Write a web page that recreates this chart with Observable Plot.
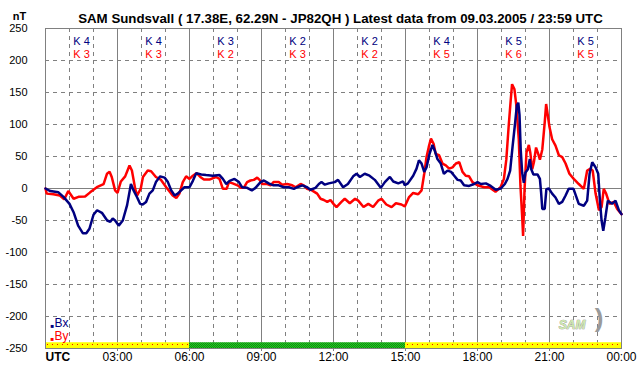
<!DOCTYPE html>
<html>
<head>
<meta charset="utf-8">
<script src="https://cdn.jsdelivr.net/npm/d3@7"></script>
<script src="https://cdn.jsdelivr.net/npm/@observablehq/plot@0.6"></script>
<style>
  html, body { margin: 0; padding: 0; background: #fff; }
  svg.chart { display: block; }
</style>
</head>
<body>
<svg width="0" height="0" style="position:absolute">
  <defs>
    <pattern id="barYellow" width="5" height="6" patternUnits="userSpaceOnUse">
      <rect width="5" height="6" fill="#ffff00"></rect>
      <rect x="2" y="2" width="1" height="1" fill="#ff0000"></rect>
    </pattern>
    <pattern id="barGreen" width="2" height="2" patternUnits="userSpaceOnUse">
      <rect width="2" height="2" fill="#22cc22"></rect>
      <rect width="1" height="1" fill="#118811"></rect>
      <rect x="1" y="1" width="1" height="1" fill="#118811"></rect>
    </pattern>
  </defs>
</svg>
<div id="chart"></div>
<script>
const titleText = "SAM Sundsvall ( 17.38E, 62.29N - JP82QH ) Latest data from 09.03.2005 / 23:59 UTC";
const unitText = "nT";

const yTicks = [250, 200, 150, 100, 50, 0, -50, -100, -150, -200, -250];
const xTickHours = [3, 6, 9, 12, 15, 18, 21, 24];
const xTickLabels = ["03:00", "06:00", "09:00", "12:00", "15:00", "18:00", "21:00", "00:00"];
const gridHoursMinor = [1, 2, 4, 5, 7, 8, 10, 11, 13, 14, 16, 17, 19, 20, 22, 23];
const gridHoursMajor = [3, 6, 9, 12, 15, 18, 21];

const kHours = [1.5, 4.5, 7.5, 10.5, 13.5, 16.5, 19.5, 22.5];
const kBx = [4, 4, 3, 2, 2, 4, 5, 5];
const kBy = [3, 3, 2, 3, 2, 5, 6, 5];

const barStart = [0, 6, 15];
const barEnd = [6, 15, 24];
const barState = ["yellow", "green", "yellow"];

const bxHours = [0,0.2,0.54,0.75,1.0,1.17,1.36,1.56,1.7,1.83,2.0,2.15,2.35,2.57,2.7,2.8,2.9,3.05,3.22,3.4,3.56,3.67,3.82,3.94,4.05,4.19,4.33,4.47,4.6,4.78,4.96,5.1,5.24,5.38,5.51,5.65,5.79,6.0,6.14,6.28,6.49,6.69,6.97,7.25,7.39,7.53,7.67,7.875,8.06,8.19,8.4,8.6,8.75,8.96,9.1,9.3,9.5,9.72,9.93,10.14,10.35,10.49,10.7,10.9,11.04,11.25,11.39,11.5,11.64,11.8,12.05,12.19,12.4,12.6,12.82,12.96,13.1,13.3,13.5,13.72,13.97,14.14,14.35,14.49,14.7,14.9,14.97,15.1,15.32,15.46,15.56,15.67,15.78,15.875,16.0,16.125,16.22,16.33,16.47,16.6,16.75,16.9,17.03,17.17,17.3,17.44,17.65,17.86,18.0,18.14,18.35,18.55,18.76,18.97,19.14,19.25,19.36,19.46,19.56,19.64,19.7,19.75,19.8,19.86,19.93,20.0,20.1,20.18,20.24,20.33,20.5,20.6,20.65,20.7,20.8,20.87,20.97,21.11,21.25,21.39,21.53,21.67,21.8,22.0,22.22,22.43,22.57,22.67,22.78,22.92,23.03,23.1,23.17,23.24,23.33,23.43,23.61,23.75,23.89,24];
const bxValues = [0,-4,-6,-13,-24,-37,-58,-70,-70,-63,-41,-34,-38,-50,-52,-47,-50,-58,-50,-26,7,-3,-14,-24,-25,-21,-8,-3,10,19,17,10,-3,-11,-8,-3,2,2,12,24,22,21,20,21,15,7,12,15,10,2,1,-3,1,10,12.5,8,5,5,2,2,-0.5,2,5,2,-2,1,7,10,6,8,10,13.5,2,7,19,23,18,23,20,13.5,1,10,18,11,8,11,5,8,20,31,44,39,26,33,54,68,59,46,39,23,28,26,20,13.5,12.5,5,4,7,10,7,8,4,-2,0,7,15,28,65,100,130,134,115,61,25,9,25,30,46,30,22,22,15,-6,-32,-32,-1,0,-8,-14,-24,-21,-11,-0.5,-0.5,-24,-27,-19,23,41,33,23,-19,-50,-66,-45,-19,-24,-19,-34,-40];

const byHours = [0,0.05,0.33,0.6,0.78,0.95,1.17,1.375,1.65,1.86,2.14,2.42,2.56,2.67,2.76,2.9,3.0,3.14,3.32,3.5,3.6,3.74,3.82,3.97,4.06,4.26,4.4,4.6,4.8,5.03,5.3,5.45,5.58,5.72,5.86,6.0,6.14,6.3,6.45,6.6,6.83,7.1,7.25,7.39,7.55,7.64,7.8,8.0,8.15,8.26,8.4,8.54,8.68,8.82,8.92,9.03,9.24,9.38,9.5,9.72,9.86,10.07,10.28,10.42,10.63,10.76,10.9,11.1,11.32,11.46,11.6,11.74,11.875,12.0,12.125,12.33,12.47,12.68,12.9,13.03,13.25,13.45,13.65,13.86,14.0,14.2,14.42,14.6,14.83,14.97,15.14,15.32,15.53,15.67,15.78,15.875,15.97,16.06,16.17,16.26,16.4,16.54,16.68,16.82,16.96,17.1,17.24,17.375,17.51,17.65,17.79,18.0,18.28,18.49,18.75,18.96,19.1,19.2,19.3,19.375,19.44,19.54,19.62,19.72,19.79,19.86,19.9,19.96,20.04,20.14,20.2,20.28,20.35,20.44,20.53,20.6,20.7,20.8,20.86,20.93,21.0,21.11,21.25,21.39,21.53,21.67,21.83,22.01,22.22,22.43,22.57,22.71,22.8,22.92,23.06,23.17,23.26,23.36,23.5,23.68,23.82,24];
const byValues = [0,-8,-9,-11,-17,-4,-16,-13,-12.5,-6,2,7,23,26,18,-3,-7,11,19,36,28,-1,-11,0,18,28,27,18,14,2,-11,-15,-8,10,19,15,20,24,18,14,14,18,15,-0.5,-0.5,10,8,5,1,1,10,12.5,13.5,17,13.5,7,7,5,10,10,6,7,5,2,7,5,-0.5,-3,-8,-16,-18,-21,-18,-24,-29,-21,-16,-23,-16,-19,-29,-24,-29,-19,-16,-25,-29,-23,-25,-28,-14,-7,-9,-3,23,49,65,78,70,54,52,39,36,31,33,39,41,26,20,19,10,5,2,2,-5,2,15,45,98,134,163,155,129,77,4,-43,-74,-1,56,68,56,30,41,64,54,45,61,103,132,114,96,77,67,52,49,39,23,15,7,-0.5,28,31,28,-8,-34,-29,-0.5,-8,-24,-21,-32,-40];

const bx = bxHours.map((h, i) => ({h, v: bxValues[i]}));
const by = byHours.map((h, i) => ({h, v: byValues[i]}));
const bars = barStart.map((s, i) => ({s, e: barEnd[i], state: barState[i]}));

const gridColor = "#808080";
const blue = "#000080";
const red = "#ff0000";
const narrow = "'Liberation Sans Narrow', 'Arial Narrow', 'Liberation Sans', Arial, sans-serif";

const chart = Plot.plot({
  width: 642,
  height: 376,
  marginLeft: 45,
  marginRight: 21,
  marginTop: 28,
  marginBottom: 28,
  x: {domain: [0, 24], axis: null},
  y: {domain: [-250, 250], axis: null},
  style: {fontFamily: "'Liberation Sans', Arial, sans-serif", fontSize: "12px", background: "#fff", color: "#000"},
  marks: [
    Plot.ruleY(yTicks.filter(d => d !== 0 && Math.abs(d) !== 250), {stroke: gridColor, strokeDasharray: "4,4", strokeWidth: 1}),
    Plot.ruleX(gridHoursMinor, {stroke: gridColor, strokeDasharray: "4,4", strokeWidth: 1}),
    Plot.ruleX(gridHoursMajor, {stroke: gridColor, strokeWidth: 1, insetBottom: -3}),
    Plot.ruleY([0], {stroke: gridColor, strokeWidth: 1}),
    Plot.rect(bars, {x1: "s", x2: "e", y1: -250, y2: -241, inset: 0,
      fill: d => d.state === "green" ? "url(#barGreen)" : "url(#barYellow)"}),
    Plot.frame({stroke: gridColor, strokeWidth: 1}),
    Plot.line(by, {x: "h", y: "v", stroke: red, strokeWidth: 2.5, strokeLinejoin: "miter"}),
    Plot.line(bx, {x: "h", y: "v", stroke: blue, strokeWidth: 2.5, strokeLinejoin: "miter"}),
    // K indices
    Plot.text(kHours, {x: d => d, frameAnchor: "top", dy: 9, text: (d, i) => "K " + kBx[i], fill: blue, fontSize: 11}),
    Plot.text(kHours, {x: d => d, frameAnchor: "top", dy: 22, text: (d, i) => "K " + kBy[i], fill: red, fontSize: 11}),
    // y tick labels
    Plot.text(yTicks, {y: d => d, frameAnchor: "left", dx: -18, textAnchor: "end", fontSize: 11, fill: "#000"}),
    // x tick labels
    Plot.text(xTickHours, {x: d => d, frameAnchor: "bottom", dy: 12, text: (d, i) => xTickLabels[i], fontSize: 12, fill: "#000"}),
    Plot.text(["UTC"], {frameAnchor: "bottom-left", dy: 12, dx: 0, textAnchor: "start", fontWeight: "bold", fontSize: 12, fill: "#000"}),
    // title and unit
    Plot.text([titleText], {frameAnchor: "top", dy: -15, dx: 7, fontFamily: narrow, fontWeight: "bold", fontSize: 13.3, fill: "#000"}),
    Plot.text([unitText], {frameAnchor: "top-left", dx: -26, dy: -16, textAnchor: "middle", fontWeight: "bold", fontSize: 11, fill: "#000"}),
    // legend
    Plot.text(["■"], {frameAnchor: "bottom-left", dx: 5, dy: -21, fill: blue, fontSize: 6}),
    Plot.text(["Bx"], {frameAnchor: "bottom-left", dx: 9, dy: -22, textAnchor: "start", fill: blue, fontSize: 12}),
    Plot.text(["■"], {frameAnchor: "bottom-left", dx: 5, dy: -8, fill: red, fontSize: 6}),
    Plot.text(["By"], {frameAnchor: "bottom-left", dx: 9, dy: -9, textAnchor: "start", fill: red, fontSize: 12}),
    // logo
    Plot.text(["SAM"], {frameAnchor: "bottom-right", dx: -36, dy: -20, fontStyle: "italic", fontWeight: "bold", fontSize: 12,
      fill: "#cfe8b0", stroke: "#8a8a8a", strokeWidth: 0.6, fontFamily: "'Liberation Sans', Arial, sans-serif"}),
    Plot.text([")"], {frameAnchor: "bottom-right", dx: -18, dy: -22, fontSize: 26, fill: "#9a9a9a", fontWeight: "bold"})
  ]
});
chart.classList.add("chart");
document.getElementById("chart").appendChild(chart);
</script>
</body>
</html>
